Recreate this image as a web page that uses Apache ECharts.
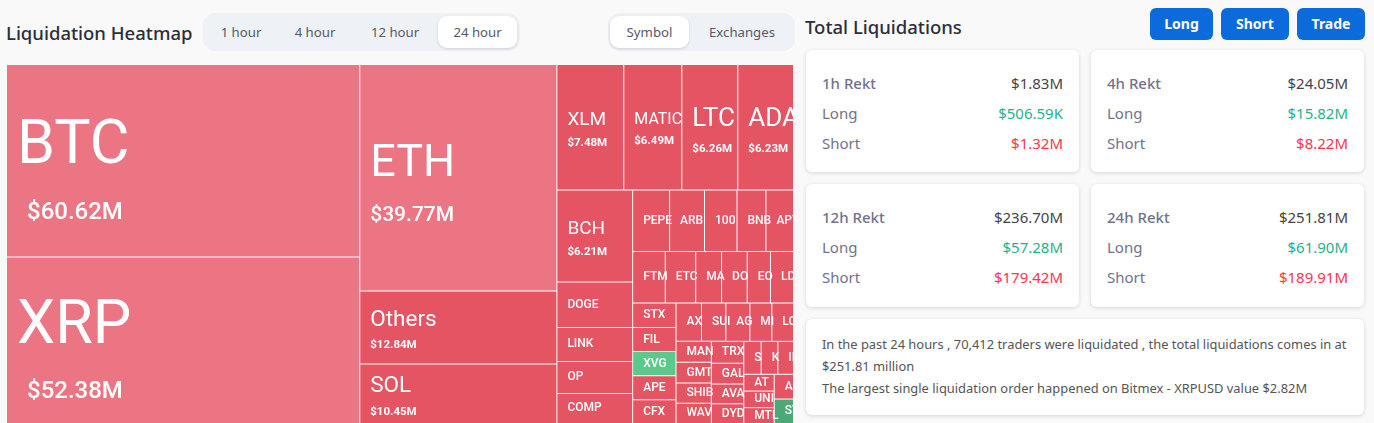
<!DOCTYPE html>
<html>
<head>
<meta charset="utf-8">
<style>
html, body { margin: 0; padding: 0; width: 1374px; height: 423px; overflow: hidden; background: #f9f9f9; font-family: "Noto Sans", sans-serif; }
.abs { position: absolute; white-space: nowrap; }
.title { font-size: 18.5px; color: #2c2f3a; font-weight: 500; line-height: 24px; }
.pill { background: #eef2f6; border-radius: 12px; }
.tab { font-size: 13.2px; color: #555a66; line-height: 32px; text-align: center; height: 32px; border-radius: 9px; }
.tab.on { background: #fff; box-shadow: 0 1px 3px rgba(0,0,0,.14); }
.btn { background: #0b6bdd; color: #fff; font-size: 14px; font-weight: 700; line-height: 32px; height: 32px; text-align: center; border-radius: 6px; }
.card { background: #fff; border-radius: 6px; box-shadow: 0 1px 4px rgba(0,0,0,.14); }
.row { font-size: 15px; line-height: 20px; color: #72728c; }
.amt { font-size: 15px; line-height: 20px; text-align: right; }
.note { font-size: 12.9px; line-height: 22px; color: #555; }
#main { position: absolute; left: 7px; top: 65px; width: 786px; height: 358px; }
</style>
</head>
<body>
<div class="abs title" style="left:6px;top:21px">Liquidation Heatmap</div>
<div class="abs pill" style="left:203px;top:13px;width:317px;height:38px"></div>
<div class="abs pill" style="left:608px;top:13px;width:187px;height:38px"></div>
<div class="abs title" style="left:805px;top:15px">Total Liquidations</div>
<div id="main"></div>
<div id="chrome"></div>
<script src="https://cdn.jsdelivr.net/npm/echarts@6/dist/echarts.min.js"></script>
<script>
// treemap data, $M
var symbols = ['BTC','XRP','ETH','Others','SOL','XLM','MATIC','LTC','ADA','BCH','DOGE','LINK','OP','COMP',
  'PEPE','ARB','1000BONK','BNB','APT','FTM','ETC','MASK','DOT','EOS','LDO',
  'STX','FIL','XVG','APE','CFX','AXS','SUI','AGIX','MINA','LQTY',
  'MANA','GMT','SHIB','WAVES','TRX','GALA','AVAX','DYDX','SAND','KAVA','IMX','ATOM','UNI','MTL','AAVE','STORJ'];
var values = [60.62,52.38,39.77,12.84,10.45,7.48,6.49,6.26,6.23,6.21,3.07,2.30,2.16,2.03,
  2.02,1.91,1.78,1.58,1.51,1.50,1.40,1.19,1.18,1.07,1.06,
  0.94,0.935,0.93,0.925,0.92,0.87,0.83,0.82,0.75,0.74,
  0.66,0.65,0.64,0.635,0.63,0.60,0.575,0.57,0.51,0.49,0.46,0.455,0.45,0.43,0.425,0.42];
var lightSymbols = ['BTC','XRP','ETH'];
var longSymbols = ['XVG'];
var darkLongSymbols = ['STORJ'];
var pricedSymbols = ['BTC','XRP','ETH','Others','SOL','XLM','MATIC','LTC','ADA','BCH'];
var edgeSymbols = ['ADA','APT','LDO','LQTY','IMX','AAVE','STORJ']; // run off the right edge, canvas clips them

// header + cards
var timeTabs = ['1 hour','4 hour','12 hour','24 hour'];
var viewTabs = ['Symbol','Exchanges'];
var actionButtons = ['Long','Short','Trade'];
var rektLabels = ['1h Rekt','4h Rekt','12h Rekt','24h Rekt'];
var rektTotals = ['$1.83M','$24.05M','$236.70M','$251.81M'];
var rektLongs = ['$506.59K','$15.82M','$57.28M','$61.90M'];
var rektShorts = ['$1.32M','$8.22M','$179.42M','$189.91M'];
var noteLines = ['In the past 24 hours , 70,412 traders were liquidated , the total liquidations comes in at',
  '$251.81 million','The largest single liquidation order happened on Bitmex - XRPUSD value $2.82M'];

var chrome = document.getElementById('chrome');
function put(cls, style, text) {
  var d = document.createElement('div');
  d.className = 'abs ' + cls;
  d.style.cssText = style;
  d.textContent = text || '';
  chrome.appendChild(d);
}
var tabX = [205, 279, 354, 438], tabW = [72, 72, 82, 79];
timeTabs.forEach(function (t, i) {
  put('tab' + (i == 3 ? ' on' : ''), 'left:' + tabX[i] + 'px;top:16px;width:' + tabW[i] + 'px', t);
});
var viewX = [610, 691], viewW = [79, 102];
viewTabs.forEach(function (t, i) {
  put('tab' + (i == 0 ? ' on' : ''), 'left:' + viewX[i] + 'px;top:16px;width:' + viewW[i] + 'px', t);
});
var btnX = [1150, 1221, 1297], btnW = [63, 68, 68];
actionButtons.forEach(function (t, i) {
  put('btn', 'left:' + btnX[i] + 'px;top:8px;width:' + btnW[i] + 'px', t);
});
rektLabels.forEach(function (t, i) {
  var x = i % 2 ? 1091 : 806, y = i < 2 ? 50 : 184;
  put('card', 'left:' + x + 'px;top:' + y + 'px;width:273px;height:' + (i < 2 ? 122 : 123) + 'px');
  [[t, rektTotals[i], '#444', 23], ['Long', rektLongs[i], '#1fb28f', 53], ['Short', rektShorts[i], '#f9364f', 83]].forEach(function (r, j) {
    put('row', 'left:' + (x + 16) + 'px;top:' + (y + r[3]) + 'px;' + (j == 0 ? 'font-weight:500' : ''), r[0]);
    put('amt', 'left:' + (x + 117) + 'px;width:140px;top:' + (y + r[3]) + 'px;color:' + r[2], r[1]);
  });
});
put('card', 'left:806px;top:319px;width:558px;height:96px');
noteLines.forEach(function (t, i) {
  put('note', 'left:822px;top:' + (333 + i * 22) + 'px', t);
});

// label tier per symbol: name style, price style
var tiers = {
  BTC: ['xl','xlv'], XRP: ['xl','xlv'], ETH: ['lg','lgv'],
  Others: ['md','sv'], SOL: ['md','sv'], BCH: ['md2','sv'], XLM: ['md2','sv'],
  MATIC: ['md3','sv'], LTC: ['big','bv'], ADA: ['big','bv']
};
var F = 'Roboto';
var rich = {
  xl: { fontSize: 61, lineHeight: 96, color: '#fff', fontFamily: F },
  xlv: { fontSize: 24, lineHeight: 34, fontWeight: 500, color: '#fff', fontFamily: F, padding: [0, 0, 0, 10] },
  lg: { fontSize: 45, lineHeight: 70, color: '#fff', fontFamily: F },
  lgv: { fontSize: 21, lineHeight: 32, fontWeight: 500, color: '#fff', fontFamily: F },
  big: { fontSize: 26, lineHeight: 40, color: '#fff', fontFamily: F },
  md: { fontSize: 22.5, lineHeight: 32, color: '#fff', fontFamily: F },
  md2: { fontSize: 19, lineHeight: 28, color: '#fff', fontFamily: F },
  md3: { fontSize: 16, lineHeight: 24, color: '#fff', fontFamily: F },
  sv: { fontSize: 11.5, lineHeight: 18, fontWeight: 700, color: '#fff', fontFamily: F },
  bv: { fontSize: 11.5, lineHeight: 20, fontWeight: 700, color: '#fff', fontFamily: F },
  s: { fontSize: 12, lineHeight: 14, fontWeight: 500, color: '#fff', fontFamily: F }
};
var tierShift = { xl: 4, lg: 3, big: 2, md: 2, md2: 2, md3: 2 };

function labelTop(name, tileHeight) {
  var t = tiers[name];
  if (!t) return Math.max(0, (tileHeight - rich.s.lineHeight) / 2);
  return Math.max(0, (tileHeight - rich[t[0]].lineHeight - rich[t[1]].lineHeight) / 2 + tierShift[t[0]]);
}

// tops: tile name -> top padding that centres the label, known once the layout ran
function buildData(tops) {
  return symbols.map(function (s, i) {
    var color = '#e55463';
    if (lightSymbols.indexOf(s) >= 0) color = '#ec7583';
    if (longSymbols.indexOf(s) >= 0) color = '#5cc98c';
    if (darkLongSymbols.indexOf(s) >= 0) color = '#4ca877';
    var edge = edgeSymbols.indexOf(s) >= 0;
    return {
      name: s,
      value: values[i],
      itemStyle: { color: color },
      label: {
        // negative right padding lets a cut-off letter stay, as in the tiles of the site
        padding: [tops[s] || 0, -6, 0, 10],
        overflow: edge ? 'none' : 'truncate'
      }
    };
  });
}

var chart = echarts.init(document.getElementById('main'));
chart.setOption({
  animation: false,
  series: [{
    type: 'treemap',
    left: 0, top: 0, right: 0, bottom: 0,
    roam: false,
    nodeClick: false,
    breadcrumb: { show: false },
    itemStyle: { borderWidth: 0, gapWidth: 1, borderColor: '#fff' },
    label: {
      show: true,
      position: [0, 0],
      align: 'left',
      verticalAlign: 'top',
      overflow: 'truncate',
      ellipsis: '',
      color: '#fff',
      fontFamily: F,
      formatter: function (p) {
        var t = tiers[p.name];
        if (pricedSymbols.indexOf(p.name) >= 0) {
          return '{' + t[0] + '|' + p.name + '}\n{' + t[1] + '|$' + p.value.toFixed(2) + 'M}';
        }
        return '{s|' + p.name + '}';
      },
      rich: rich
    },
    data: buildData({})
  }]
});

// second pass: centre each label vertically in its tile
var tops = {};
chart.getModel().getSeriesByIndex(0).getData().tree.root.children.forEach(function (n) {
  tops[n.name] = labelTop(n.name, n.getLayout().height);
});
chart.setOption({ series: [{ data: buildData(tops) }] });
</script>
</body>
</html>
